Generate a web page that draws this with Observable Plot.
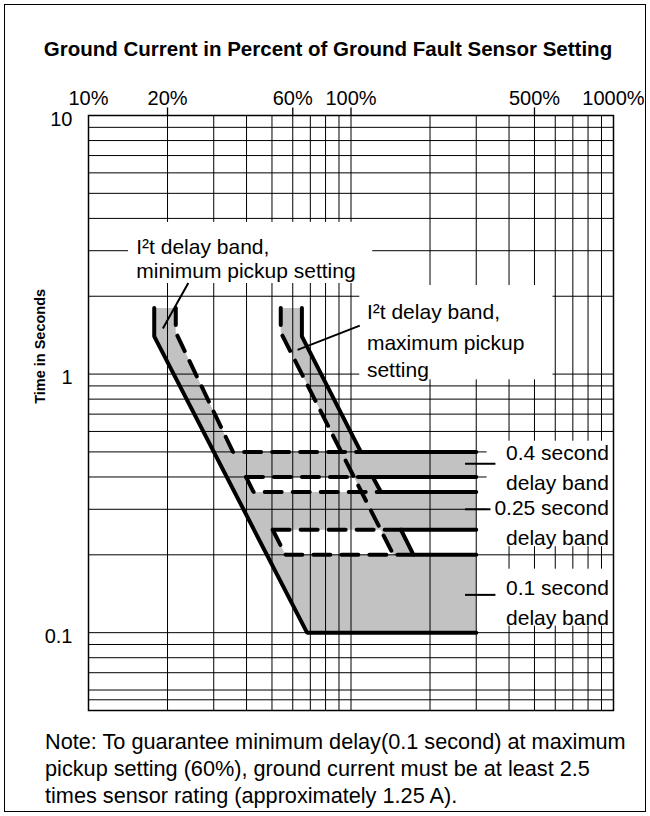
<!DOCTYPE html>
<html>
<head>
<meta charset="utf-8">
<script src="https://cdn.jsdelivr.net/npm/d3@7"></script>
<script src="https://cdn.jsdelivr.net/npm/@observablehq/plot@0.6"></script>
<style>
  body { margin: 0; background: #fff; }
  #page { position: relative; width: 650px; height: 816px; overflow: hidden;
          font-family: "Liberation Sans", Arial, Helvetica, sans-serif; color: #000; }
  #chart { position: absolute; left: 0; top: 0; }
  #border { position: absolute; left: 4px; top: 4px; width: 642px; height: 808px;
            border: 1.5px solid #000; box-sizing: border-box; pointer-events: none; }
  #title { position: absolute; left: 0; width: 656px; top: 37px; text-align: center;
           font-weight: bold; font-size: 20.5px; white-space: nowrap; }
  #note { position: absolute; left: 45px; top: 728px; font-size: 21.7px; line-height: 27px; white-space: nowrap; }
</style>
</head>
<body>
<div id="page">
  <div id="chart"></div>
  <div id="border"></div>
  <div id="title">Ground Current in Percent of Ground Fault Sensor Setting</div>
  <div id="note">Note: To guarantee minimum delay(0.1 second) at maximum<br>pickup setting (60%), ground current must be at least 2.5<br>times sensor rating (approximately 1.25 A).</div>
</div>
<script>
// ---- axis / tick data ----
const xTickValues = [10, 20, 60, 100, 500, 1000];
const xMajorTicks = [20, 60, 100, 500];
const yTickValues = [10, 1, 0.1];
const xGrid = [20, 30, 40, 50, 60, 70, 80, 90, 100, 200, 300, 400, 500, 600, 700, 800, 900];
const yGrid = [0.055, 0.06, 0.07, 0.08, 0.09, 0.1, 0.2, 0.3, 0.4, 0.5, 0.6, 0.7, 0.8, 0.9, 1, 2, 3, 4, 5, 6, 7, 8, 9];

// ---- curves: [percent of sensor setting, seconds] ----
// minimum pickup setting (20%)
const minPickupLower  = [[17.8, 1.8], [17.8, 1.4], [68, 0.1], [300, 0.1]];     // solid
const minPickupUpper  = [[21.5, 1.8], [21.5, 1.45], [35.5, 0.5], [109, 0.5]];  // dashed
const minBand04Lower  = [[39.8, 0.4], [121, 0.4]];                            // dashed
const minBand025Upper = [[39.8, 0.4], [42.5, 0.35], [130, 0.35]];             // dashed
const minBand025Lower = [[50.3, 0.25], [155, 0.25]];                          // dashed
const minBand01Upper  = [[50.3, 0.25], [56.3, 0.2], [173, 0.2]];              // dashed
// maximum pickup setting (60%)
const maxPickupLower  = [[54, 1.8], [54, 1.45], [145, 0.2]];                  // dashed
const maxPickupUpper  = [[65, 1.8], [65, 1.4], [109, 0.5], [300, 0.5]];       // solid
const maxBand04Lower  = [[121, 0.4], [300, 0.4]];                             // solid
const maxBand025Upper = [[121, 0.4], [130, 0.35], [300, 0.35]];               // solid
const maxBand025Lower = [[155, 0.25], [300, 0.25]];                           // solid
const maxBand01Upper  = [[155, 0.25], [173, 0.2], [300, 0.2]];                // solid

// shaded regions (outlines)
const minBandShade = [[17.8, 1.8], [17.8, 1.4], [68, 0.1], [300, 0.1], [300, 0.2], [56.3, 0.2],
  [50.3, 0.25], [300, 0.25], [300, 0.35], [42.5, 0.35], [39.8, 0.4], [300, 0.4], [300, 0.5],
  [35.5, 0.5], [21.5, 1.45], [21.5, 1.8]];
const maxBandShade = [[54, 1.8], [54, 1.45], [145, 0.2], [173, 0.2], [109, 0.5], [65, 1.4], [65, 1.8]];

// annotation text
const minLabel = ["I\u00B2t delay band,", "minimum pickup setting"];
const maxLabel = ["I\u00B2t delay band,", "maximum pickup", "setting"];
const bandLabels = ["0.4 second", "delay band", "0.25 second", "delay band", "0.1 second", "delay band"];

// ---- build tables ----
const toRows = (series) => series.flatMap((pts, i) => pts.map(([x, y]) => ({id: i, x, y})));
const solidRows = toRows([minPickupLower, maxPickupUpper, maxBand04Lower, maxBand025Upper, maxBand025Lower, maxBand01Upper]);
const dashedRows = toRows([minPickupUpper, minBand04Lower, minBand025Upper, minBand025Lower, minBand01Upper, maxPickupLower]);
const shadeRows = toRows([minBandShade, maxBandShade]);

const minLabelRows = [{x: 15.2, y: 3.09, t: minLabel[0]}, {x: 15.2, y: 2.49, t: minLabel[1]}];
const maxLabelRows = [{x: 115, y: 1.73, t: maxLabel[0]}, {x: 115, y: 1.32, t: maxLabel[1]}, {x: 115, y: 1.03, t: maxLabel[2]}];
const bandLabelRows = [0.493, 0.378, 0.302, 0.231, 0.148, 0.1135].map((y, i) => ({x: 960, y, t: bandLabels[i]}));

const leaders = [
  {x1: 19.2, y1: 1.5, x2: 24, y2: 2.25},
  {x1: 62.6, y1: 1.24, x2: 108, y2: 1.54},
  {x1: 272, y1: 0.45, x2: 355, y2: 0.45},
  {x1: 272, y1: 0.3, x2: 340, y2: 0.3},
  {x1: 272, y1: 0.14, x2: 355, y2: 0.14}
];
const whiteBoxes = [
  {x1: 14.2, x2: 121, y1: 2.24, y2: 3.86},
  {x1: 108, x2: 588, y1: 0.95, y2: 2.2},
  {x1: 330, x2: 1000, y1: 0.215, y2: 0.55},
  {x1: 330, x2: 1000, y1: 0.106, y2: 0.176}
];

const chart = Plot.plot({
  width: 650,
  height: 816,
  marginLeft: 88,
  marginRight: 37,
  marginTop: 115,
  marginBottom: 106,
  style: {fontFamily: "'Liberation Sans', Arial, Helvetica, sans-serif", color: "#000", background: "transparent"},
  x: {type: "log", domain: [10, 1000], axis: null},
  y: {type: "log", domain: [0.05, 10], axis: null},
  marks: [
    Plot.line(shadeRows, {x: "x", y: "y", z: "id", fill: "#c2c2c2", stroke: "none", curve: "linear-closed"}),
    Plot.ruleX(xGrid, {stroke: "#000", strokeWidth: 1}),
    Plot.ruleY(yGrid, {stroke: "#000", strokeWidth: 1}),
    Plot.rect(whiteBoxes, {x1: "x1", x2: "x2", y1: "y1", y2: "y2", fill: "white"}),
    Plot.frame({stroke: "#000", strokeWidth: 1.5}),
    // top ticks and labels
    Plot.ruleX(xMajorTicks, {y1: 10, y2: 10.7, stroke: "#000", strokeWidth: 1.3}),
    Plot.text(xTickValues, {x: d => d, text: d => d + "%", frameAnchor: "top", lineAnchor: "middle", dy: -17, fontSize: 20}),
    Plot.text(yTickValues, {y: d => d, text: d => String(d), frameAnchor: "left", textAnchor: "end", lineAnchor: "middle", dx: -16, dy: 4, fontSize: 20}),
    Plot.text(["Time in Seconds"], {y: 1.28, frameAnchor: "left", textAnchor: "middle", dx: -48, rotate: -90, fontWeight: "bold", fontSize: 14.5}),
    // curves
    Plot.line(solidRows, {x: "x", y: "y", z: "id", stroke: "#000", strokeWidth: 4, strokeLinejoin: "miter"}),
    Plot.line(dashedRows, {x: "x", y: "y", z: "id", stroke: "#000", strokeWidth: 4, strokeDasharray: "17,11", strokeLinejoin: "miter"}),
    Plot.link(leaders, {x1: "x1", y1: "y1", x2: "x2", y2: "y2", stroke: "#000", strokeWidth: 2}),
    Plot.text(minLabelRows, {x: "x", y: "y", text: "t", textAnchor: "start", fontSize: 21}),
    Plot.text(maxLabelRows, {x: "x", y: "y", text: "t", textAnchor: "start", fontSize: 21}),
    Plot.text(bandLabelRows, {x: "x", y: "y", text: "t", textAnchor: "end", fontSize: 21})
  ]
});
document.getElementById("chart").appendChild(chart);
</script>
</body>
</html>
